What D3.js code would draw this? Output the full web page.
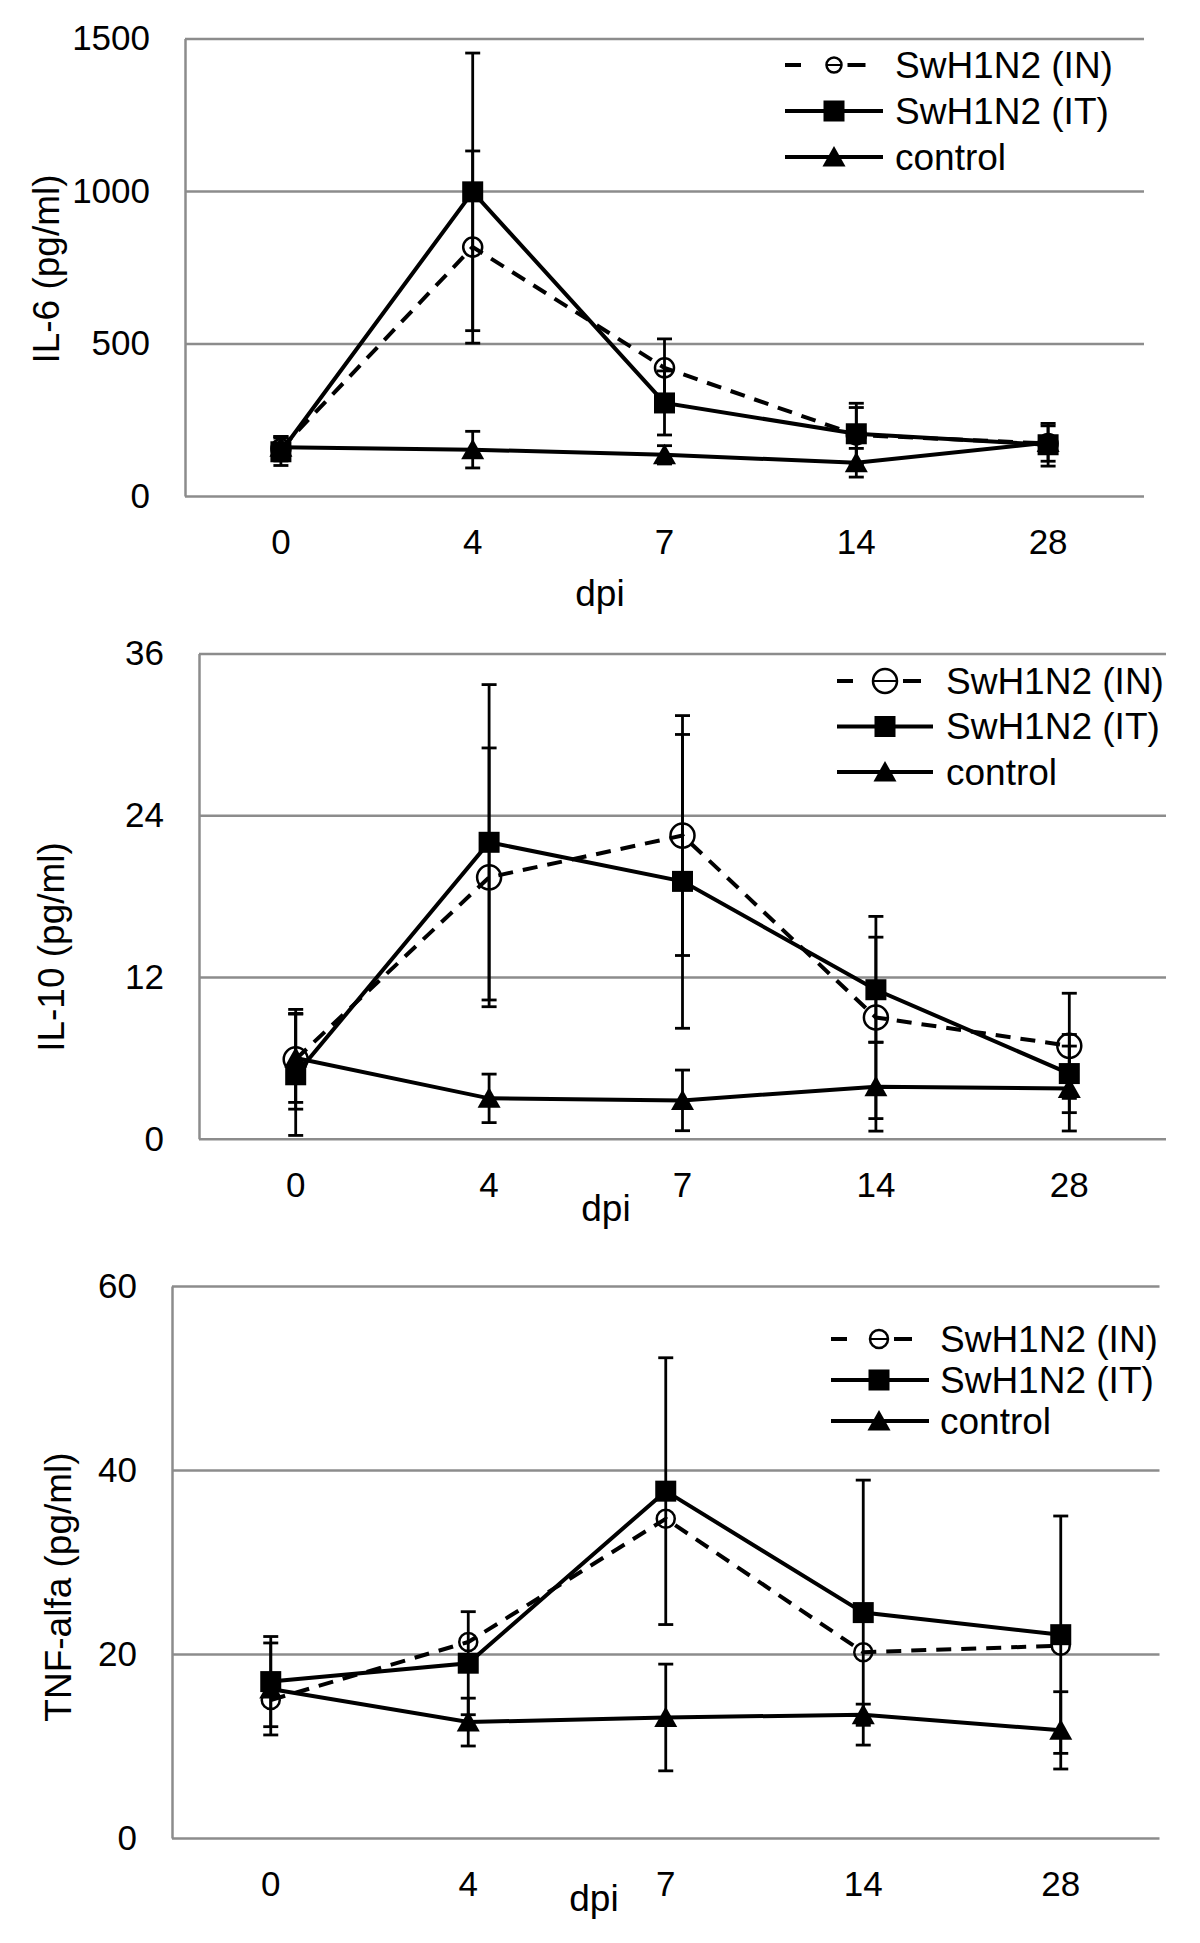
<!DOCTYPE html>
<html>
<head>
<meta charset="utf-8">
<script src="https://cdn.jsdelivr.net/npm/d3@7"></script>
<style>
  body { margin: 0; background: #fff; }
  svg { display: block; font-family: "Liberation Sans", Arial, sans-serif; }
</style>
</head>
<body>
<div id="chart"></div>
<script>
// dias post infeccion
const days = ['0', '4', '7', '14', '28'];
const seriesNames = ['SwH1N2 (IN)', 'SwH1N2 (IT)', 'control'];

// IL-6
const il6Ticks = [0, 500, 1000, 1500];
const il6IN = [155, 816, 420, 200, 172];
const il6INErr = [40, 315, 95, 90, 58];
const il6IT = [145, 997, 305, 204, 168];
const il6ITErr = [45, 455, 105, 100, 70];
const il6Ctrl = [160, 152, 135, 109, 175];
const il6CtrlErr = [35, 60, 30, 47, 20];

// IL-10
const il10Ticks = [0, 12, 24, 36];
const il10IN = [5.9, 19.4, 22.5, 9.0, 6.9];
const il10INErr = [3.7, 9.6, 8.9, 7.5, 3.9];
const il10IT = [4.75, 22.0, 19.1, 11.06, 4.84];
const il10ITErr = [4.5, 11.7, 10.9, 3.9, 2.9];
const il10Ctrl = [6.0, 3.0, 2.85, 3.87, 3.73];
const il10CtrlErr = [3.3, 1.8, 2.25, 3.3, 3.15];

// TNF-alfa
const tnfTicks = [0, 20, 40, 60];
const tnfIN = [15.0, 21.3, 34.7, 20.2, 20.9];
const tnfINErr = [null, null, null, null, null];
const tnfIT = [17.0, 19.0, 37.7, 24.5, 22.1];
const tnfITErr = [4.9, 5.6, 14.5, 14.4, 12.9];
const tnfCtrl = [16.2, 12.6, 13.1, 13.4, 11.7];
const tnfCtrlErr = [5.0, 2.6, 5.8, 1.15, 4.2];

const panels = [
  {
    title: 'IL-6 (pg/ml)', ticks: il6Ticks,
    data: [[il6IN, il6INErr], [il6IT, il6ITErr], [il6Ctrl, il6CtrlErr]],
    left: 185, right: 1144, top: 38.4, bottom: 496,
    titleX: 59, titleY: 269, dpiX: 600, dpiY: 606, circleR: 9.5,
    leg: { x0: 785, x1: 883, xm: 834, tx: 895, y0: 65, dy: 46, r: 7.5 }
  },
  {
    title: 'IL-10 (pg/ml)', ticks: il10Ticks,
    data: [[il10IN, il10INErr], [il10IT, il10ITErr], [il10Ctrl, il10CtrlErr]],
    left: 199, right: 1166, top: 653.6, bottom: 1138.8,
    titleX: 64, titleY: 947, dpiX: 606, dpiY: 1221, circleR: 12,
    leg: { x0: 837, x1: 933, xm: 885, tx: 946, y0: 681, dy: 45.5, r: 12 }
  },
  {
    title: 'TNF-alfa (pg/ml)', ticks: tnfTicks,
    data: [[tnfIN, tnfINErr], [tnfIT, tnfITErr], [tnfCtrl, tnfCtrlErr]],
    left: 172, right: 1159.5, top: 1286, bottom: 1838,
    titleX: 70.7, titleY: 1587, dpiX: 594, dpiY: 1911, circleR: 9,
    leg: { x0: 831, x1: 929, xm: 879, tx: 940, y0: 1339, dy: 41, r: 9 }
  }
];

const GRID = '#8c8c8c';
const FONT = '"Liberation Sans", Arial, sans-serif';
const tickFont = 35;
const labelFont = 37;

const svg = d3.select('#chart').append('svg')
  .attr('width', 1200)
  .attr('height', 1943);

svg.append('rect').attr('width', 1200).attr('height', 1943).attr('fill', '#fff');

function marker(g, tipo, cx, cy, r) {
  if (tipo === 0) {
    g.append('circle')
      .attr('cx', cx).attr('cy', cy).attr('r', r)
      .attr('fill', 'none').attr('stroke', '#000').attr('stroke-width', 2.5);
  } else if (tipo === 1) {
    g.append('rect')
      .attr('x', cx - 10.5).attr('y', cy - 10.5)
      .attr('width', 21).attr('height', 21)
      .attr('fill', '#000');
  } else {
    g.append('path')
      .attr('d', `M${cx},${cy - 11}L${cx + 11.5},${cy + 9.5}L${cx - 11.5},${cy + 9.5}Z`)
      .attr('fill', '#000');
  }
}

panels.forEach(p => {
  const x = d3.scaleBand().domain(days).range([p.left, p.right]).padding(0);
  const y = d3.scaleLinear().domain([0, d3.max(p.ticks)]).range([p.bottom, p.top]);
  const cx = d => x(d) + x.bandwidth() / 2;

  const g = svg.append('g');

  // eje y + lineas de grilla
  const yAxis = g.append('g')
    .attr('transform', `translate(${p.left},0)`)
    .call(d3.axisLeft(y)
      .tickValues(p.ticks)
      .tickFormat(d3.format('d'))
      .tickSize(-(p.right - p.left))
      .tickSizeOuter(0)
      .tickPadding(35));
  yAxis.attr('font-family', FONT);
  yAxis.select('.domain').attr('stroke', GRID).attr('stroke-width', 2.5);
  yAxis.selectAll('.tick line').attr('stroke', GRID).attr('stroke-width', 2.5);
  yAxis.selectAll('.tick text')
    .attr('fill', '#000')
    .style('font-size', tickFont + 'px');

  // eje x
  const xAxis = g.append('g')
    .attr('transform', `translate(0,${p.bottom})`)
    .call(d3.axisBottom(x).tickSize(0).tickPadding(33));
  xAxis.attr('font-family', FONT);
  xAxis.select('.domain').remove();
  xAxis.selectAll('.tick text')
    .attr('fill', '#000')
    .style('font-size', tickFont + 'px');

  // titulos
  g.append('text')
    .attr('transform', `translate(${p.titleX},${p.titleY}) rotate(-90)`)
    .attr('text-anchor', 'middle')
    .style('font-size', labelFont + 'px')
    .text(p.title);

  g.append('text')
    .attr('x', p.dpiX).attr('y', p.dpiY)
    .attr('text-anchor', 'middle')
    .style('font-size', labelFont + 'px')
    .text('dpi');

  // series
  p.data.forEach(([vals, errs], s) => {
    const sg = g.append('g');

    vals.forEach((v, i) => {
      const e = errs[i];
      if (e == null) return;
      const xx = cx(days[i]);
      sg.append('line')
        .attr('x1', xx).attr('x2', xx)
        .attr('y1', y(v - e)).attr('y2', y(v + e))
        .attr('stroke', '#000').attr('stroke-width', 2.8);
      [v - e, v + e].forEach(t => {
        sg.append('line')
          .attr('x1', xx - 7.5).attr('x2', xx + 7.5)
          .attr('y1', y(t)).attr('y2', y(t))
          .attr('stroke', '#000').attr('stroke-width', 2.8);
      });
    });

    const line = d3.line()
      .x((v, i) => cx(days[i]))
      .y(v => y(v));

    sg.append('path')
      .datum(vals)
      .attr('d', line)
      .attr('fill', 'none')
      .attr('stroke', '#000')
      .attr('stroke-width', 4)
      .attr('stroke-dasharray', s === 0 ? '15,10' : null);

    vals.forEach((v, i) => marker(sg, s, cx(days[i]), y(v), p.circleR));
  });

  // leyenda
  const L = p.leg;
  seriesNames.forEach((name, s) => {
    const ly = L.y0 + s * L.dy;
    const lg = g.append('g');
    if (s === 0) {
      [[L.x0, L.x0 + 16], [L.xm + L.r + 6, L.xm + L.r + 24]].forEach(([a, b]) => {
        lg.append('line')
          .attr('x1', a).attr('x2', b).attr('y1', ly).attr('y2', ly)
          .attr('stroke', '#000').attr('stroke-width', 4);
      });
      lg.append('line')
        .attr('x1', L.xm - L.r).attr('x2', L.xm + L.r).attr('y1', ly).attr('y2', ly)
        .attr('stroke', '#000').attr('stroke-width', 2);
    } else {
      lg.append('line')
        .attr('x1', L.x0).attr('x2', L.x1).attr('y1', ly).attr('y2', ly)
        .attr('stroke', '#000').attr('stroke-width', 4);
    }
    marker(lg, s, L.xm, ly, L.r);
    lg.append('text')
      .attr('x', L.tx).attr('y', ly).attr('dy', '0.35em')
      .style('font-size', labelFont + 'px')
      .text(name);
  });
});
</script>
</body>
</html>
